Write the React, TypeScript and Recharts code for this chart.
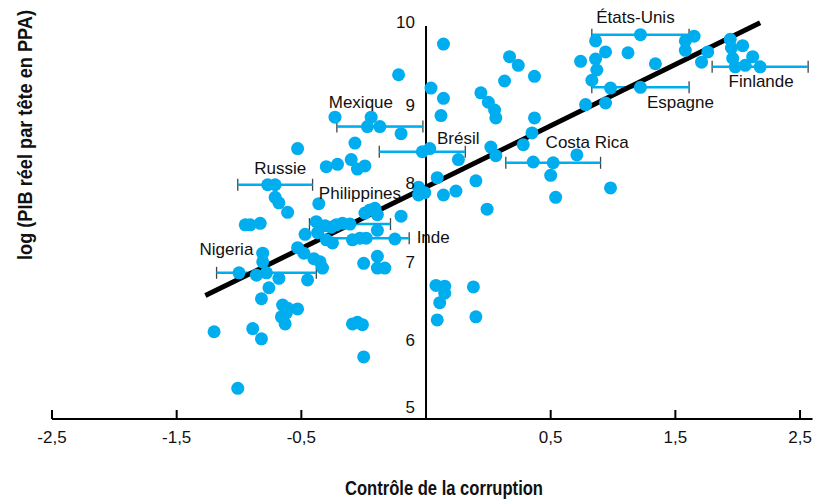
import { ScatterChart, Scatter, XAxis, YAxis, ErrorBar, ReferenceLine } from 'recharts'

const xTicks = [-3, -2, -1, 0, 1, 2, 3]
const xTickLabels = ['-2,5', '-1,5', '-0,5', '', '0,5', '1,5', '2,5']
const yTicks = [5, 6, 7, 8, 9, 10]

const countries = ['États-Unis', 'Espagne', 'Finlande', 'Costa Rica', 'Brésil', 'Mexique', 'Russie', 'Philippines', 'Inde', 'Nigeria']
const countryX = [1.72, 1.72, 2.68, 1.02, -0.03, -0.37, -1.21, -0.61, -0.48, -1.28]
const countryY = [9.89, 9.22, 9.48, 8.26, 8.4, 8.72, 7.98, 7.48, 7.3, 6.86]
const countryErr = [0.39, 0.39, 0.385, 0.38, 0.345, 0.345, 0.3, 0.325, 0.345, 0.4]

const otherPoints: [number, number][] = [
  [-1.51, 5.39], [-1.7, 6.11], [-1.39, 6.15], [-1.32, 6.02], [-0.5, 5.79], [-0.59, 6.21], [-0.55, 6.23], [-0.51, 6.2],
  [-1.15, 6.45], [-1.11, 6.41], [-1.03, 6.4], [-1.16, 6.3], [-1.12, 6.35], [-1.13, 6.21], [-1.32, 6.53], [-1.26, 6.67],
  [-1.18, 6.79], [-0.95, 6.77], [-1.5, 6.86], [-1.36, 6.83], [-1.31, 7.11], [-1.31, 7.0], [-1.03, 7.18], [-0.98, 7.11],
  [-0.9, 7.04], [-0.85, 7.0], [-0.83, 6.92], [-0.5, 6.98], [-0.39, 7.07], [-0.39, 6.92], [-0.33, 6.92], [-0.97, 7.35],
  [-0.87, 7.37], [-1.45, 7.47], [-1.41, 7.47], [-1.33, 7.49], [-0.88, 7.51], [-0.81, 7.46], [-0.76, 7.44], [-0.72, 7.47],
  [-0.67, 7.49], [-0.8, 7.28], [-0.75, 7.24], [-0.59, 7.28], [-0.53, 7.3], [-0.25, 7.29], [-0.39, 7.4], [-0.49, 7.62],
  [-0.45, 7.66], [-0.41, 7.68], [-0.39, 7.6], [-0.2, 7.58], [-1.18, 7.75], [-1.11, 7.63], [-0.86, 7.74], [-1.27, 7.98],
  [-1.21, 7.82], [-0.8, 8.21], [-0.71, 8.24], [-0.6, 8.3], [-0.55, 8.18], [-0.49, 8.22], [-1.03, 8.44], [-0.57, 8.51],
  [-0.73, 8.84], [-0.44, 8.84], [-0.47, 8.72], [-0.2, 8.63], [-0.22, 9.38], [-0.06, 7.95], [-0.01, 7.88], [-0.06, 7.85],
  [0.09, 8.07], [0.14, 7.85], [0.24, 7.9], [0.4, 8.03], [0.49, 7.67], [0.08, 6.7], [0.15, 6.69], [0.15, 6.6],
  [0.11, 6.48], [0.09, 6.26], [0.38, 6.68], [0.4, 6.3], [0.03, 8.44], [0.26, 8.3], [0.52, 8.46], [0.56, 8.35],
  [0.04, 9.21], [0.14, 9.77], [0.14, 9.08], [0.12, 8.86], [0.44, 9.15], [0.5, 9.03], [0.55, 8.93], [0.56, 8.83],
  [0.67, 9.61], [0.74, 9.5], [0.87, 9.36], [0.63, 9.3], [0.87, 8.83], [0.85, 8.64], [0.78, 8.49], [0.86, 8.27],
  [1.21, 8.36], [1.0, 8.1], [1.04, 7.82], [1.48, 7.94], [1.28, 9.0], [1.44, 9.02], [1.48, 9.21], [1.33, 9.31],
  [1.24, 9.55], [1.36, 9.58], [1.44, 9.67], [1.37, 9.44], [1.36, 9.81], [1.62, 9.66], [1.84, 9.52], [2.08, 9.81],
  [2.15, 9.87], [2.08, 9.69], [2.26, 9.67], [2.21, 9.54], [2.44, 9.83], [2.45, 9.72], [2.54, 9.75], [2.46, 9.59],
  [2.48, 9.48], [2.56, 9.5], [2.62, 9.61],
]

const fitStart = { x: -1.77, y: 6.57 }
const fitEnd = { x: 2.68, y: 10.04 }

// where each country name sits relative to its dot (px)
const labelShift: Record<string, [number, number]> = {
  'États-Unis': [-5, -18],
  Espagne: [40, 15],
  Finlande: [1, 14],
  'Costa Rica': [34, -21],
  Brésil: [36, -14],
  Mexique: [-19, -25],
  Russie: [5, -17],
  Philippines: [10, -31],
  Inde: [67, -1],
  Nigeria: [-40, -24],
}

const BLUE = '#00adee'
const FONT = "'Liberation Sans', Arial, sans-serif"
const TITLE_FONT = "'Liberation Sans Narrow', 'Liberation Sans', Arial, sans-serif"

const countryData = countries.map((name, i) => ({ name, x: countryX[i], y: countryY[i], err: countryErr[i] }))
const otherData = otherPoints.map(([x, y]) => ({ x, y }))
const yTickData = yTicks.map((y) => ({ x: 0, y }))

const Dot = (p: any) => <circle cx={p.cx} cy={p.cy} r={6.5} fill={BLUE} />

const CountryLabel = (p: any) => {
  const [dx, dy] = labelShift[p.payload.name]
  return (
    <text x={p.cx + dx} y={p.cy + dy + 6} textAnchor="middle" fontSize={17} fontFamily={FONT} fill="#111">
      {p.payload.name}
    </text>
  )
}

const YTickLabel = (p: any) => {
  const v = p.payload.y
  const dy = v === 5 ? -6 : v === 10 ? 2 : 6
  return (
    <text x={p.cx - 11} y={p.cy + dy} textAnchor="end" fontSize={17} fontFamily={FONT} fill="#111">
      {v}
    </text>
  )
}

const XTick = (p: any) => {
  const i = xTicks.indexOf(p.payload.value)
  return (
    <g>
      {p.payload.value !== 0 && <line x1={p.x} x2={p.x} y1={p.y} y2={p.y - 9} stroke="#000" strokeWidth={2} />}
      <text x={p.x} y={p.y + 24} textAnchor="middle" fontSize={17} fontFamily={FONT} fill="#111">
        {xTickLabels[i]}
      </text>
    </g>
  )
}

const AxisTitles = (lp: any) => {
  const { x, y } = lp.viewBox
  return (
    <g fill="#111" fontSize={20} fontWeight={700} fontFamily={TITLE_FONT}>
      <text x={x + 392} y={y + 76} textAnchor="middle" textLength={198} lengthAdjust="spacingAndGlyphs">
        Contrôle de la corruption
      </text>
      <g transform="translate(25, 135) rotate(-90)">
        <text x={0} y={7} textAnchor="middle" textLength={250} lengthAdjust="spacingAndGlyphs">
          log (PIB réel par tête en PPA)
        </text>
      </g>
    </g>
  )
}

export default function App() {
  return (
    <div style={{ position: 'absolute', left: 0, top: 0, width: 815, height: 504, background: '#fff' }}>
      <ScatterChart width={815} height={504} margin={{ top: 26, right: 2.5, left: 52, bottom: 25 }}>
        <XAxis
          type="number"
          dataKey="x"
          domain={[-3, 3.1]}
          ticks={xTicks}
          tick={<XTick />}
          tickSize={0}
          tickMargin={0}
          tickLine={false}
          axisLine={{ stroke: '#000', strokeWidth: 2 }}
          height={60}
          label={{ content: (lp: any) => <AxisTitles {...lp} /> }}
        />
        <YAxis type="number" dataKey="y" domain={[5, 10]} width={0} tick={false} tickLine={false} axisLine={false} />
        <ReferenceLine x={0} stroke="#000" strokeWidth={2} />
        <Scatter data={countryData} shape={<Dot />} isAnimationActive={false}>
          <ErrorBar dataKey="err" direction="x" width={6} stroke="#444" strokeWidth={1.3} />
          <ErrorBar dataKey="err" direction="x" width={0} stroke={BLUE} strokeWidth={2.5} />
        </Scatter>
        <Scatter data={otherData} shape={<Dot />} isAnimationActive={false} />
        <ReferenceLine segment={[fitStart, fitEnd]} stroke="#000" strokeWidth={5} ifOverflow="visible" />
        <Scatter data={countryData} shape={<CountryLabel />} isAnimationActive={false} />
        <Scatter data={yTickData} shape={<YTickLabel />} isAnimationActive={false} />
      </ScatterChart>
    </div>
  )
}
